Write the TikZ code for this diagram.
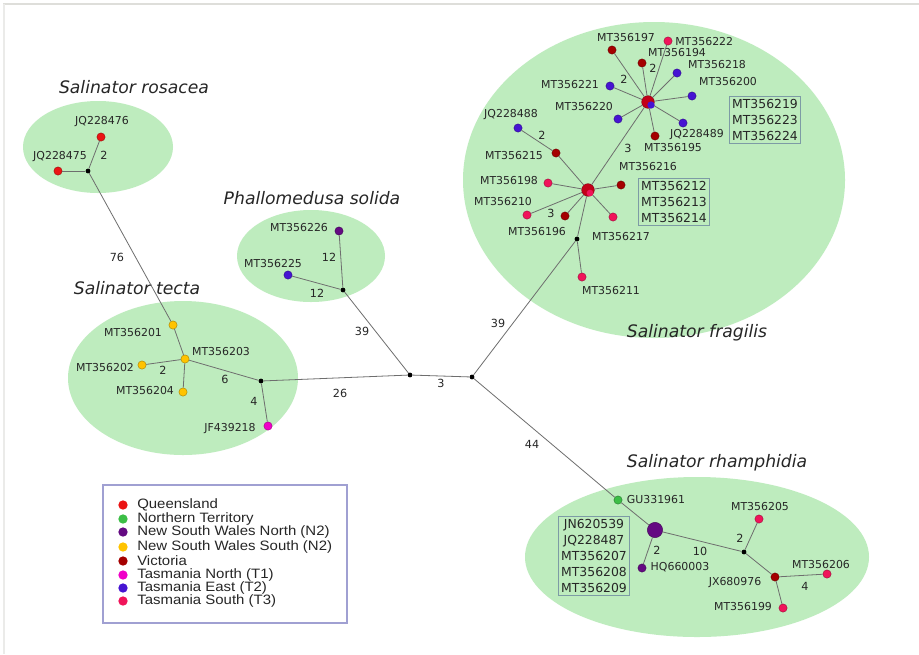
\documentclass[tikz,border=0pt]{standalone}
\usepackage{fontspec}
\setmainfont{DejaVu Sans}
\newfontfamily\legfont{Liberation Sans}[FakeStretch=1.1]
\definecolor{qld}{RGB}{235,20,20}
\definecolor{nt}{RGB}{60,190,70}
\definecolor{nswn}{RGB}{100,10,130}
\definecolor{nsws}{RGB}{255,195,0}
\definecolor{vic}{RGB}{165,0,0}
\definecolor{tasn}{RGB}{240,0,200}
\definecolor{tase}{RGB}{70,20,210}
\definecolor{tass}{RGB}{240,20,90}
\definecolor{hubred}{RGB}{195,0,25}
\definecolor{blob}{RGB}{190,236,190}
\definecolor{edgec}{RGB}{110,110,110}
\definecolor{boxc}{RGB}{125,155,165}
\definecolor{legc}{RGB}{160,160,210}
\definecolor{framec}{RGB}{222,222,218}
\begin{document}
\begin{tikzpicture}[x=0.75pt,y=-0.75pt,
  hap/.style={circle, fill=#1, draw=#1!65!black, line width=0.3pt, inner sep=0pt, minimum size=6.2pt},
  jn/.style={circle, fill=black, inner sep=0pt, minimum size=3.6pt},
  lab/.style={font=\fontsize{8.2}{9}\selectfont, inner sep=0pt, text=black!85},
  num/.style={font=\fontsize{8.4}{9}\selectfont, inner sep=0pt, text=black!85},
  conn/.style={draw=edgec, line width=0.6pt},
  species/.style={font=\fontsize{12.9}{14}\selectfont\itshape, inner sep=0pt, text=black!85},
  seqbox/.style={draw=boxc, line width=1pt, align=center, font=\fontsize{9.3}{12}\selectfont, inner sep=2.2pt, text=black!85},
  legdot/.style={circle, fill=#1, inner sep=0pt, minimum size=7pt},
  legtext/.style={font=\legfont\fontsize{10.2}{10.5}\selectfont, anchor=west, inner sep=0pt, text=black!85}
]
\useasboundingbox (0,0) rectangle (919,654);
\fill[white] (0,0) rectangle (919,654);
\draw[framec, line width=1.5pt] (3,4) -- (919,4);
\draw[framec!60, line width=1pt] (4,4) -- (4,654);

% background blobs
\fill[blob] (98,147) ellipse [x radius=75, y radius=46];
\fill[blob] (311,256) ellipse [x radius=74, y radius=46];
\fill[blob] (183,378) ellipse [x radius=115, y radius=77];
\fill[blob] (654,180) ellipse [x radius=191, y radius=158];
\fill[blob] (697,557) ellipse [x radius=172, y radius=80];

% species titles
\node[species] (tros) at (134,87) {Salinator rosacea};
\node[species] (tpha) at (312,198) {Phallomedusa solida};
\node[species] (ttec) at (137,288) {Salinator tecta};
\node[species] (tfra) at (697,333) {Salinator fragilis};
\node[species] (trha) at (717,463) {Salinator rhamphidia};

% ---- rosacea
\node[hap=qld] (q476) at (101,137) {};
\node[hap=qld] (q475) at (58,171) {};
\node[jn] (r0) at (88,171) {};
\node[lab] (lq476) at (102,122) {JQ228476};
\node[lab] (lq475) at (60,157) {JQ228475};
\node[num] (n_r2) at (104,155) {2};

% ---- tecta
\node[hap=nsws] (t201) at (173,325) {};
\node[hap=nsws] (t203) at (185,359) {};
\node[hap=nsws] (t202) at (142,365) {};
\node[hap=nsws] (t204) at (183,392) {};
\node[jn] (t1) at (261,381) {};
\node[hap=tasn] (jf) at (268,426) {};
\node[lab] (lt201) at (133,333) {MT356201};
\node[lab] (lt203) at (221,352) {MT356203};
\node[lab] (lt202) at (105,368) {MT356202};
\node[lab] (lt204) at (145,391) {MT356204};
\node[lab] (ljf) at (230,429) {JF439218};
\node[num] (n_t2) at (163,370) {2};
\node[num] (n_t6) at (225,379) {6};
\node[num] (n_t4) at (254,401) {4};

% ---- phallomedusa
\node[hap=nswn] (p226) at (339,231) {};
\node[hap=tase] (p225) at (288,275) {};
\node[jn] (p0) at (343,290) {};
\node[lab] (lp226) at (299,228) {MT356226};
\node[lab] (lp225) at (273,264) {MT356225};
\node[num] (n_p12a) at (329,257) {12};
\node[num] (n_p12b) at (317,293) {12};

% ---- centre
\node[jn] (c1) at (410,375) {};
\node[jn] (c2) at (472,377) {};
\node[num] (n_76) at (117,257) {76};
\node[num] (n_39a) at (362,331) {39};
\node[num] (n_26) at (340,393) {26};
\node[num] (n_3) at (441,383) {3};
\node[num] (n_39b) at (498,323) {39};
\node[num] (n_44) at (532,444) {44};

% ---- fragilis
\node[jn] (f0) at (577,239) {};
\node[hap=tass] (f211) at (582,277) {};
\node[lab] (lf211) at (611,291) {MT356211};
\node[circle, fill=hubred, draw=hubred!65!black, line width=0.3pt, inner sep=0pt, minimum size=9.5pt] (hub1) at (588,190) {};
\node[circle, fill=hubred, draw=hubred!65!black, line width=0.3pt, inner sep=0pt, minimum size=9.5pt] (hub2) at (648,102) {};

\node[hap=vic] (f215) at (556,153) {};
\node[hap=tase] (f488) at (518,128) {};
\node[hap=tass] (f198) at (548,183) {};
\node[hap=tass] (f210) at (527,215) {};
\node[hap=vic] (f196) at (565,216) {};
\node[hap=tass] (f217) at (613,217) {};
\node[hap=vic] (f216) at (621,185) {};
\node[lab] (lf215) at (514,156) {MT356215};
\node[lab] (lf488) at (511,115) {JQ228488};
\node[lab] (lf198) at (509,181) {MT356198};
\node[lab] (lf210) at (503,202) {MT356210};
\node[lab] (lf196) at (537,232) {MT356196};
\node[lab] (lf217) at (621,237) {MT356217};
\node[lab] (lf216) at (648,167) {MT356216};
\node[num] (n_f2a) at (542,135) {2};
\node[num] (n_f3a) at (551,213) {3};
\node[num] (n_f3b) at (628,148) {3};
\node[seqbox] (box1) at (674,202) {MT356212\\MT356213\\MT356214};

\node[hap=vic] (f197) at (612,50) {};
\node[hap=tass] (f222) at (668,41) {};
\node[hap=vic] (f194) at (642,63) {};
\node[hap=tase] (f218) at (677,73) {};
\node[hap=tase] (f200) at (692,96) {};
\node[hap=tase] (f221) at (610,86) {};
\node[hap=tase] (f220) at (618,119) {};
\node[hap=tase] (f489) at (683,123) {};
\node[hap=vic] (f195) at (655,136) {};
\node[lab] (lf197) at (626,38) {MT356197};
\node[lab, anchor=west] (lf222) at (675,42) {MT356222};
\node[lab] (lf194) at (677,53) {MT356194};
\node[lab] (lf218) at (717,65) {MT356218};
\node[lab] (lf200) at (728,82) {MT356200};
\node[lab] (lf221) at (570,85) {MT356221};
\node[lab] (lf220) at (584,107) {MT356220};
\node[lab] (lf489) at (697,135) {JQ228489};
\node[lab] (lf195) at (673,148) {MT356195};
\node[num] (n_f2b) at (653,68) {2};
\node[num] (n_f2c) at (624,79) {2};
\node[seqbox] (box2) at (765,120) {MT356219\\MT356223\\MT356224};

% ---- rhamphidia
\node[hap=nt] (gu) at (618,500) {};
\node[circle, fill=nswn, draw=nswn!65!black, line width=0.3pt, inner sep=0pt, minimum size=11.5pt] (big) at (655,530) {};
\node[hap=nswn] (hq) at (642,568) {};
\node[jn] (rh0) at (744,552) {};
\node[hap=tass] (m205) at (759,519) {};
\node[hap=vic] (jx) at (775,577) {};
\node[hap=tass] (m206) at (827,574) {};
\node[hap=tass] (m199) at (783,608) {};
\node[lab] (lgu) at (656,500) {GU331961};
\node[lab] (lhq) at (680,567) {HQ660003};
\node[lab] (lm205) at (760,507) {MT356205};
\node[lab] (ljx) at (735,583) {JX680976};
\node[lab] (lm206) at (821,565) {MT356206};
\node[lab] (lm199) at (743,607) {MT356199};
\node[num] (n_h2) at (657,550) {2};
\node[num] (n_h10) at (700,551) {10};
\node[num] (n_h2b) at (740,538) {2};
\node[num] (n_h4) at (805,586) {4};
\node[seqbox] (box3) at (594,556) {JN620539\\JQ228487\\MT356207\\MT356208\\MT356209};

% ---- connectors
\begin{scope}[conn]
\draw (r0) -- (q476);
\draw (r0) -- (q475);
\draw (r0) -- (t201);
\draw (t201) -- (t203);
\draw (t203) -- (t202);
\draw (t203) -- (t204);
\draw (t203) -- (t1);
\draw (t1) -- (jf);
\draw (t1) -- (c1);
\draw (p226) -- (p0);
\draw (p225) -- (p0);
\draw (p0) -- (c1);
\draw (c1) -- (c2);
\draw (c2) -- (f0);
\draw (f0) -- (f211);
\draw (f0) -- (hub1);
\draw (hub1) -- (f215);
\draw (f215) -- (f488);
\draw (hub1) -- (f198);
\draw (hub1) -- (f210);
\draw (hub1) -- (f196);
\draw (hub1) -- (f217);
\draw (hub1) -- (f216);
\draw (hub1) -- (hub2);
\draw (hub2) -- (f197);
\draw (hub2) -- (f222);
\draw (hub2) -- (f194);
\draw (hub2) -- (f218);
\draw (hub2) -- (f200);
\draw (hub2) -- (f221);
\draw (hub2) -- (f220);
\draw (hub2) -- (f489);
\draw (hub2) -- (f195);
\draw (c2) -- (gu);
\draw (gu) -- (big);
\draw (big) -- (hq);
\draw (big) -- (rh0);
\draw (rh0) -- (m205);
\draw (rh0) -- (jx);
\draw (jx) -- (m206);
\draw (jx) -- (m199);
\end{scope}
% hub centres on top
\node[circle, fill=tass, inner sep=0pt, minimum size=5pt] (hub1in) at (590,193) {};
\node[circle, fill=tase, inner sep=0pt, minimum size=5.5pt] (hub2in) at (651,105) {};

% ---- legend
\node[draw=legc, line width=1.1pt, minimum width=183pt, minimum height=103.5pt, inner sep=0pt] (legend) at (225,554) {};
\node[legdot=qld] (d1) at (123,505) {};
\node[legdot=nt] (d2) at (123,519) {};
\node[legdot=nswn] (d3) at (123,532) {};
\node[legdot=nsws] (d4) at (123,547) {};
\node[legdot=vic] (d5) at (123,561) {};
\node[legdot=tasn] (d6) at (123,575) {};
\node[legdot=tase] (d7) at (123,588) {};
\node[legdot=tass] (d8) at (123,601) {};
\node[legtext] (e1) at (137,505) {Queensland};
\node[legtext] (e2) at (137,519) {Northern Territory};
\node[legtext] (e3) at (137,532) {New South Wales North (N2)};
\node[legtext] (e4) at (137,547) {New South Wales South (N2)};
\node[legtext] (e5) at (137,561) {Victoria};
\node[legtext] (e6) at (137,575) {Tasmania North (T1)};
\node[legtext] (e7) at (137,588) {Tasmania East (T2)};
\node[legtext] (e8) at (137,601) {Tasmania South (T3)};
\end{tikzpicture}
\end{document}
